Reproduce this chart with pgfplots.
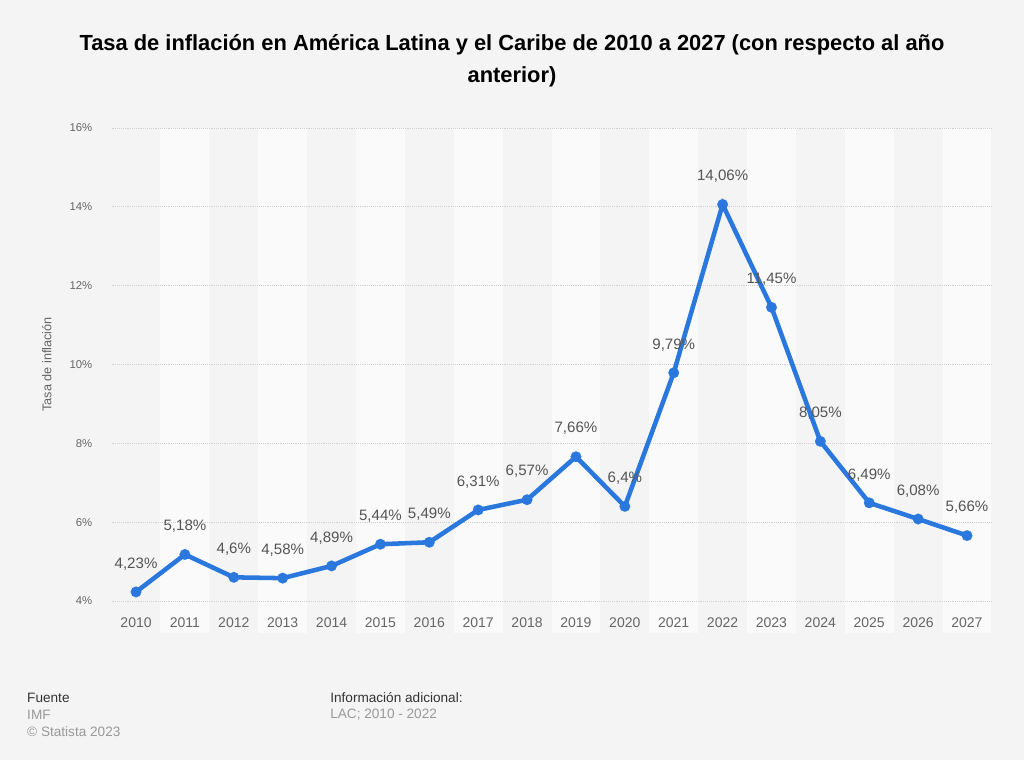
\documentclass[border=0pt]{standalone}
\usepackage{fontspec}
\setmainfont{Liberation Sans}
\usepackage{pgfplots}
\pgfplotsset{compat=1.18}
\usepackage{pgfplotstable}
\definecolor{bg}{HTML}{F4F4F4}
\definecolor{band}{HTML}{FAFAFA}
\definecolor{lineblue}{HTML}{2A78DE}
\definecolor{ticklab}{HTML}{666666}
\definecolor{datalab}{HTML}{555555}
\pgfplotstableread{
x y lab
2010 4.23 4,23\%
2011 5.18 5,18\%
2012 4.6 4,6\%
2013 4.58 4,58\%
2014 4.89 4,89\%
2015 5.44 5,44\%
2016 5.49 5,49\%
2017 6.31 6,31\%
2018 6.57 6,57\%
2019 7.66 7,66\%
2020 6.4 6,4\%
2021 9.79 9,79\%
2022 14.06 14,06\%
2023 11.45 11,45\%
2024 8.05 8,05\%
2025 6.49 6,49\%
2026 6.08 6,08\%
2027 5.66 5,66\%
}\datatable
\begin{document}
\begin{tikzpicture}[x=1pt,y=1pt]
\fill[bg] (0,0) rectangle (768,570);
\useasboundingbox (0,0) rectangle (768,570);
\foreach \k in {1,3,...,17}{
  \fill[band] ({83.7+\k*36.661},95.25) rectangle ({83.7+(\k+1)*36.661},474);
}
\node[font=\bfseries\fontsize{16.4}{19}\selectfont, align=center] at (384,536.25) {Tasa de inflación en América Latina y el Caribe de 2010 a 2027 (con respecto al año};
\node[font=\bfseries\fontsize{16.4}{19}\selectfont, align=center] at (384,512.25) {anterior)};
\begin{axis}[
  at={(83.7pt,119.25pt)}, anchor=south west,
  scale only axis, width=659.9pt, height=354.75pt,
  xmin=2009.5, xmax=2027.5, ymin=4, ymax=16,
  clip=false,
  axis line style={draw=none},
  major tick length=0pt,
  xtick={2010,...,2027},
  xticklabels={2010,2011,2012,2013,2014,2015,2016,2017,2018,2019,2020,2021,2022,2023,2024,2025,2026,2027},
  ytick={4,6,8,10,12,14,16},
  yticklabels={4\%,6\%,8\%,10\%,12\%,14\%,16\%},
  yticklabel style={font=\fontsize{8.5}{10}\selectfont, text=ticklab, xshift=-11pt},
  xticklabel style={font=\fontsize{10.5}{12}\selectfont, text=ticklab, yshift=-9pt},
  ymajorgrids,
  major grid style={densely dotted, draw=black!18, line width=0.6pt},
  ylabel={Tasa de inflación},
  ylabel style={font=\fontsize{9.5}{11}\selectfont, text=ticklab, at={(axis description cs:-0.063,0.5)}},
]
\addplot[lineblue, line width=3.4pt, mark=*, mark size=4pt, mark options={fill=lineblue, draw=lineblue, line width=0.1pt},
  nodes near coords, point meta=explicit symbolic,
  every node near coord/.style={font=\fontsize{11.3}{13}\selectfont, text=datalab, yshift=13pt}]
  table[x=x, y=y, meta=lab] {\datatable};
\end{axis}
\node[anchor=west, font=\fontsize{10.2}{12}\selectfont, text=black!80] at (16.9,46.5) {Fuente};
\node[anchor=west, font=\fontsize{10.2}{12}\selectfont, text=black!40] at (16.9,33.75) {IMF};
\node[anchor=west, font=\fontsize{10.2}{12}\selectfont, text=black!40] at (16.9,21) {© Statista 2023};
\node[anchor=west, font=\fontsize{10.2}{12}\selectfont, text=black!80] at (244.2,46.5) {Información adicional:};
\node[anchor=west, font=\fontsize{10.2}{12}\selectfont, text=black!40] at (244.2,33.75) {LAC; 2010 - 2022};
\end{tikzpicture}
\end{document}
